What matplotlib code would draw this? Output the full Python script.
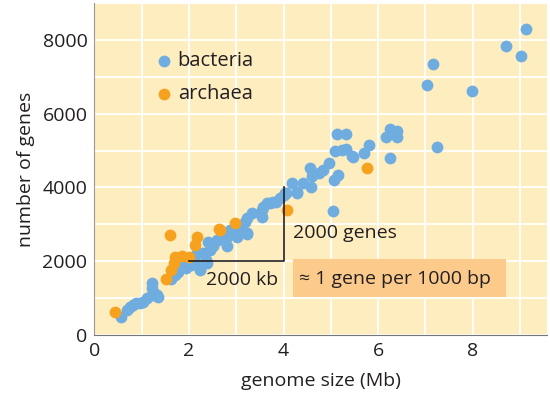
import matplotlib.pyplot as plt
from matplotlib.patches import Rectangle

plt.rcParams['font.family'] = ['Open Sans', 'DejaVu Sans']

# ── Data (genome size in Mb, number of genes) ────────────────────────────────
bact_mb = [0.56, 0.68, 0.75, 0.82, 0.89, 0.97, 1.03, 1.11, 1.21, 1.32, 1.35,
           1.21, 1.21, 1.25, 1.63, 1.70, 1.77, 1.87, 1.94, 2.05, 2.13, 2.24,
           2.23, 2.38, 2.16, 2.30, 2.37, 2.41, 2.51, 2.62, 2.59, 2.45, 2.80,
           2.80, 2.73, 2.87, 3.01, 3.01, 3.22, 3.08, 3.22, 3.18, 3.22, 3.33,
           3.54, 3.54, 3.57, 3.64, 3.71, 3.78, 3.85, 3.92, 4.00, 4.03, 4.05,
           4.17, 4.28, 4.28, 4.42, 4.56, 4.59, 4.61, 4.75, 4.84, 4.95, 5.04,
           5.07, 5.16, 5.09, 5.23, 5.33, 5.14, 5.32, 5.44, 5.46, 5.70, 5.81,
           6.17, 6.26, 6.39, 6.39, 6.25, 7.25, 7.04, 7.16, 7.98, 8.71, 9.03,
           9.12]
bact_genes = [500, 680, 760, 810, 860, 880, 900, 1000, 1085, 1085, 1020,
              1270, 1400, 1150, 1510, 1620, 1720, 1900, 1810, 1900, 1990, 1780,
              1760, 1950, 2220, 2220, 2040, 2530, 2400, 2580, 2580, 2300, 2400,
              2670, 2760, 2850, 2670, 2760, 2740, 2940, 2760, 3075, 3170, 3320,
              3190, 3390, 3480, 3570, 3570, 3620, 3620, 3710, 3800, 3850, 3850,
              4130, 3890, 3850, 4120, 4520, 4020, 4300, 4400, 4480, 4660, 3370,
              4210, 4340, 5000, 5020, 5040, 5450, 5450, 4860, 4840, 4930, 5160,
              5380, 5600, 5520, 5380, 4810, 5090, 6790, 7350, 6620, 7850, 7580,
              8300]

arch_mb = [0.44, 1.51, 1.60, 1.61, 1.68, 1.70, 1.85, 1.99, 2.13, 2.16, 2.64,
           2.66, 2.97, 4.08, 5.76]
arch_genes = [620, 1520, 2710, 1760, 1960, 2120, 2140, 2120, 2440, 2650, 2870,
              2850, 3040, 3390, 4530]

BLUE   = "#6FADE0"
ORANGE = "#F6A21E"
BG     = "#FEEDBF"
INK    = "#231f20"
FS     = 14

fig = plt.figure(figsize=(5.5, 3.95), dpi=100)
ax = fig.add_axes([0.1716, 0.152, 0.823, 0.84])
ax.set_facecolor(BG)

ax.scatter(bact_mb, bact_genes, s=72, color=BLUE, linewidths=0, zorder=3)
ax.scatter(arch_mb, arch_genes, s=72, color=ORANGE, linewidths=0, zorder=4)

ax.set_xlim(0, 9.57)
ax.set_ylim(0, 9000)
ax.set_xticks(range(0, 10))
ax.set_xticklabels(["0", "", "2", "", "4", "", "6", "", "8", ""])
ax.set_yticks(range(0, 9001, 1000))
ax.set_yticklabels(["0", "", "2000", "", "4000", "", "6000", "", "8000", ""])
ax.grid(color="white", linewidth=1.3, zorder=0)
ax.set_axisbelow(True)
ax.tick_params(length=0, labelsize=FS, colors=INK, pad=5)

for s in ["top", "right"]:
    ax.spines[s].set_visible(False)
ax.spines["left"].set_color("#999999")
ax.spines["bottom"].set_color("#777777")

ax.set_xlabel("genome size (Mb)", fontsize=FS, color=INK, labelpad=9)
ax.set_ylabel("number of genes", fontsize=FS, color=INK, labelpad=5)

# legend
ax.scatter([1.48], [7420], s=72, color=BLUE, linewidths=0, zorder=3)
ax.scatter([1.48], [6530], s=72, color=ORANGE, linewidths=0, zorder=3)
ax.text(1.76, 7420, "bacteria", fontsize=14.5, va="center", color=INK)
ax.text(1.76, 6530, "archaea", fontsize=14.5, va="center", color=INK)

# slope triangle
ax.plot([2.0, 4.0, 4.0], [2000, 2000, 4000], color=INK, lw=1.2, zorder=5)
ax.text(2.37, 1480, "2000 kb", fontsize=FS, va="center", color=INK, zorder=6)
ax.text(4.2, 2770, "2000 genes", fontsize=FS, va="center", color=INK)

ax.add_patch(Rectangle((4.2, 1030), 4.5, 1040, facecolor="#FCCB8C",
                       edgecolor="none", zorder=2))
ax.text(4.33, 1530, "≈ 1 gene per 1000 bp", fontsize=FS, va="center",
        color=INK, zorder=6)

fig.savefig("out.png", dpi=100)
